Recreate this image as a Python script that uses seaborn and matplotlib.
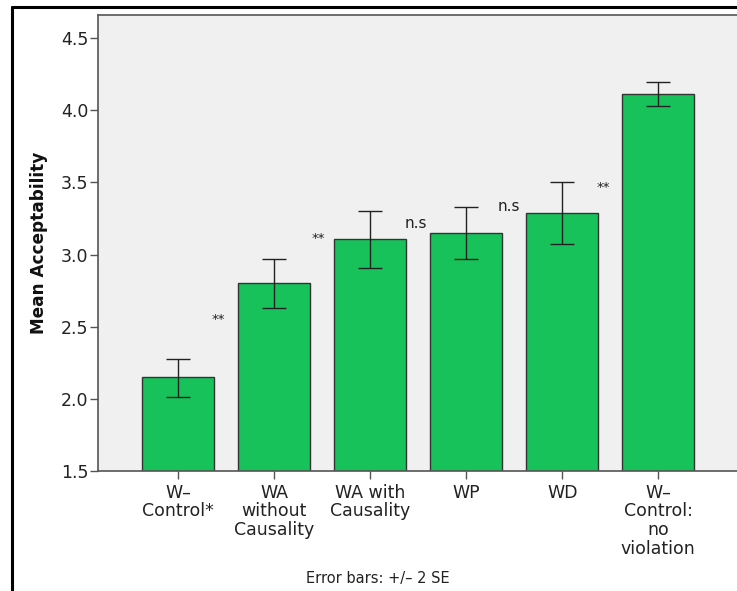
import matplotlib
matplotlib.use("Agg")
import matplotlib.pyplot as plt
from matplotlib.lines import Line2D
import seaborn as sns
import pandas as pd
import numpy as np

categories = ["W\u2013\nControl*", "WA\nwithout\nCausality", "WA with\nCausality", "WP", "WD",
              "W\u2013\nControl:\nno\nviolation"]
means = [2.15, 2.80, 3.105, 3.148, 3.288, 4.113]
err_low = [2.013, 2.63, 2.909, 2.967, 3.073, 4.032]
err_high = [2.276, 2.97, 3.300, 3.327, 3.503, 4.193]

sig_labels = ["**", "**", "n.s", "n.s", "**"]
sig_x = [0.42, 1.46, 2.48, 3.45, 4.43]
sig_y = [2.553, 3.108, 3.212, 3.33, 3.468]
sig_sizes = [9.5, 9.5, 11, 11, 9.5]

sns.set_theme(style="white")
plt.rcParams['font.family'] = ['DejaVu Sans']

df = pd.DataFrame({"cat": categories, "mean": means})

fig = plt.figure(figsize=(7.37, 5.91), dpi=100)
ax = fig.add_axes([98/737, 1 - 471/591, (737 - 98)/737, (471 - 15)/591])
ax.set_facecolor("#F0F0F0")

sns.barplot(data=df, x="cat", y="mean", color="#17C25A", saturation=1,
            edgecolor="#333333", linewidth=1.0, width=0.75, errorbar=None, ax=ax)

xs = np.arange(len(categories))
m = np.array(means)
lo = m - np.array(err_low)
hi = np.array(err_high) - m
ax.errorbar(xs, m, yerr=[lo, hi], fmt="none", ecolor="#222222", elinewidth=1.0,
            capsize=8.3, capthick=1.0)

for lab, x, y, s in zip(sig_labels, sig_x, sig_y, sig_sizes):
    ax.text(x, y, lab, ha="center", va="center", fontsize=s, color="#222222")

ax.set_ylim(1.5, 4.66)
ax.set_xlim(-0.833, 5.82)
ax.set_yticks([1.5, 2.0, 2.5, 3.0, 3.5, 4.0, 4.5])
ax.set_yticklabels(["1.5", "2.0", "2.5", "3.0", "3.5", "4.0", "4.5"])
ax.tick_params(axis="both", direction="out", length=6, width=1, color="#555555",
               labelsize=12.5, labelcolor="#222222", pad=1, left=True, bottom=True)
ax.tick_params(axis="x", labelsize=12.5, pad=3)
for lab in ax.get_xticklabels():
    lab.set_linespacing(1.05)
ax.set_xlabel("")
ax.set_ylabel("Mean Acceptability", fontsize=12.2, fontweight="bold", color="#111111")
ax.yaxis.set_label_coords(-0.079, 0.5)

for side in ["left", "bottom", "top"]:
    ax.spines[side].set_color("#555555")
    ax.spines[side].set_linewidth(1.2)
ax.spines["right"].set_visible(False)

fig.text(378/737, 1 - 578/591, "Error bars: +/\u2013 2 SE", ha="center", va="center",
         fontsize=10.5, color="#222222")

# outer frame lines
fig.add_artist(Line2D([12/737, 1], [1 - 7/591, 1 - 7/591], transform=fig.transFigure,
                      color="black", linewidth=2.2))
fig.add_artist(Line2D([12/737, 12/737], [0, 1 - 7/591], transform=fig.transFigure,
                      color="black", linewidth=2.2))

fig.savefig("out.png", dpi=100)
